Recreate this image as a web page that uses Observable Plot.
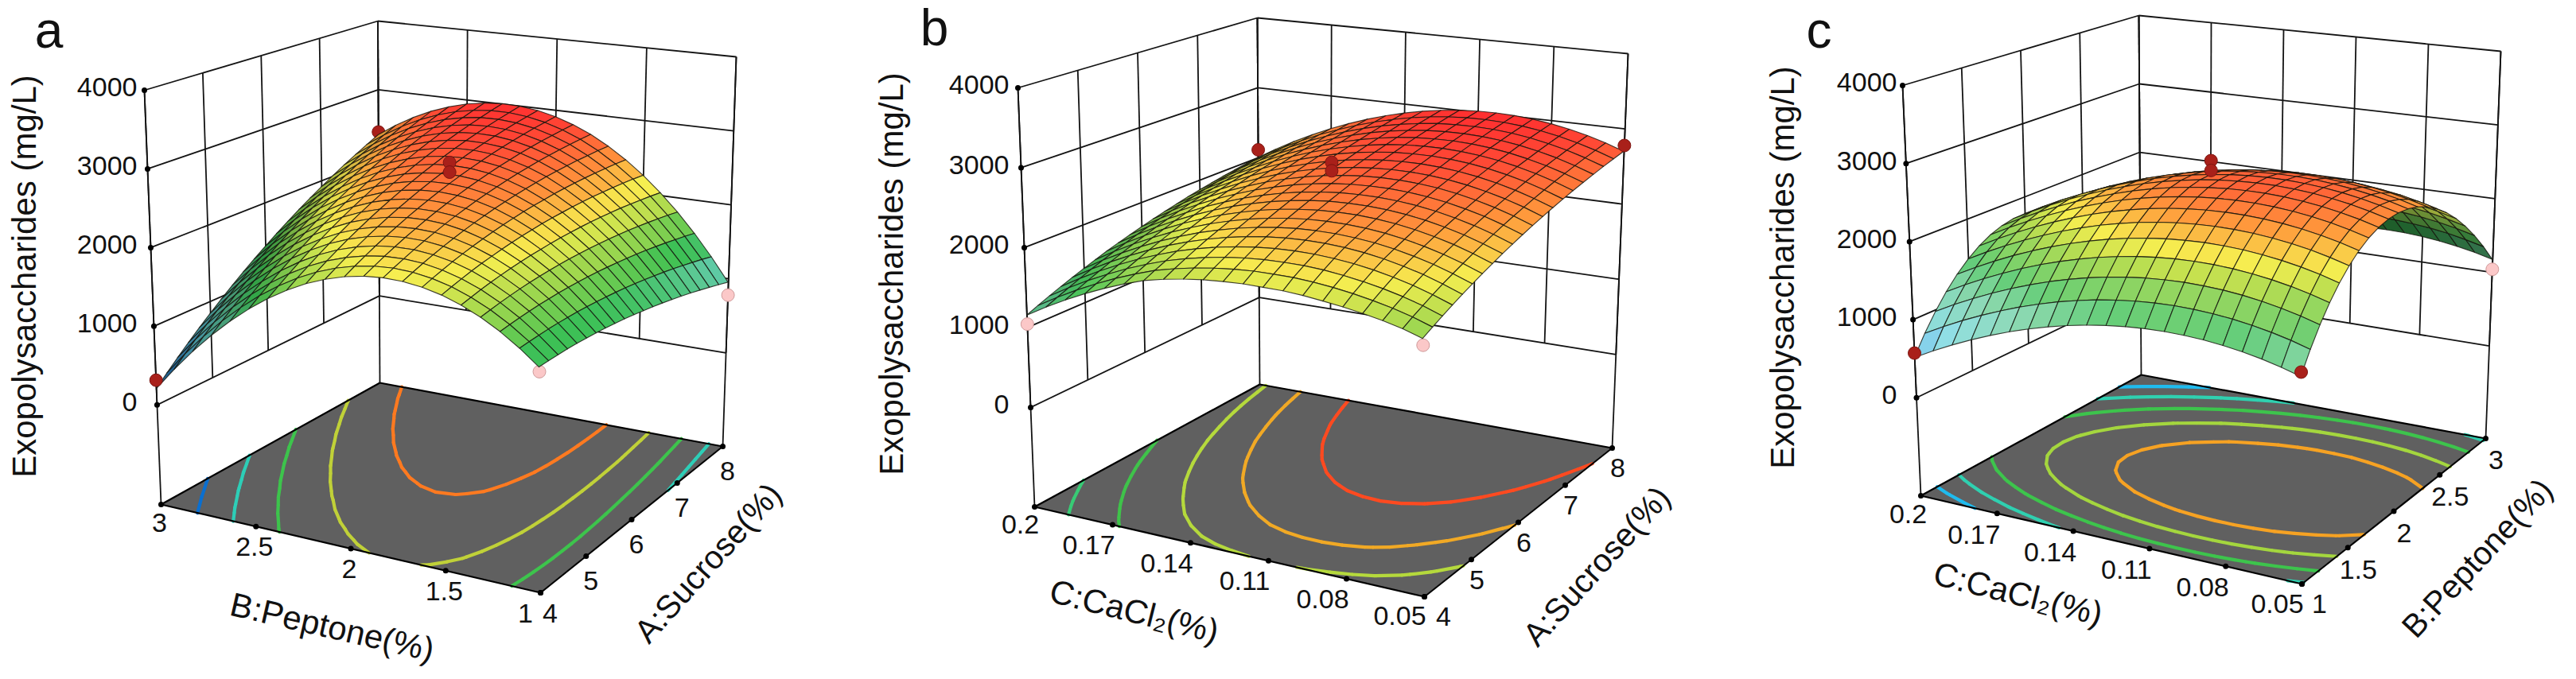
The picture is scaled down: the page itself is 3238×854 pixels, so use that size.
<!DOCTYPE html>
<html><head><meta charset="utf-8">
<script src="https://cdn.jsdelivr.net/npm/d3@7"></script>
<script src="https://cdn.jsdelivr.net/npm/@observablehq/plot@0.6"></script>
<style>html,body{margin:0;padding:0;background:#fff;overflow:hidden}#row{display:flex;width:3238px;height:854px}svg{display:block}</style>
</head><body><div id="row"></div>
<script>
const yieldTicks=[0,1000,2000,3000,4000];
const sucroseTicks=[4,5,6,7,8];
const peptoneTicks=[1,1.5,2,2.5,3];
const caclTicks=[0.05,0.08,0.11,0.14,0.17,0.2];
// rows: sucrose 4..8 (21 steps); columns: peptone 1..3 (21 steps)
const yieldBySucrosePeptone=[
[1390,1570,1725,1855,1958,2038,2091,2121,2124,2102,2055,1982,1886,1763,1615,1442,1244,1021,773,498,200],
[1395,1580,1742,1878,1988,2074,2134,2170,2180,2164,2124,2058,1968,1852,1710,1544,1352,1136,894,626,333],
[1396,1588,1757,1899,2016,2108,2174,2217,2233,2224,2190,2130,2047,1937,1802,1642,1456,1247,1011,750,464],
[1396,1594,1769,1918,2041,2140,2213,2261,2284,2281,2254,2201,2124,2021,1891,1738,1559,1356,1127,872,592],
[1392,1597,1779,1934,2063,2169,2248,2303,2332,2336,2315,2268,2198,2101,1978,1831,1659,1462,1239,991,718],
[1385,1596,1784,1946,2082,2193,2279,2341,2377,2386,2372,2332,2267,2177,2061,1921,1754,1564,1348,1106,839],
[1376,1594,1788,1957,2099,2217,2309,2377,2420,2436,2428,2394,2336,2253,2143,2009,1849,1665,1456,1220,960],
[1364,1588,1789,1963,2112,2237,2335,2410,2459,2481,2480,2453,2401,2324,2221,2093,1940,1763,1559,1330,1076],
[1348,1579,1786,1967,2122,2254,2359,2440,2495,2524,2529,2508,2463,2392,2295,2174,2028,1857,1660,1437,1190],
[1331,1568,1782,1969,2131,2268,2380,2467,2529,2564,2576,2562,2523,2459,2368,2254,2113,1949,1758,1542,1301],
[1310,1554,1774,1968,2136,2280,2398,2492,2560,2602,2620,2612,2580,2522,2438,2330,2196,2038,1854,1644,1410],
[1286,1537,1763,1964,2138,2289,2413,2514,2588,2637,2661,2659,2634,2582,2505,2403,2276,2124,1947,1743,1516],
[1260,1517,1750,1957,2138,2294,2425,2532,2613,2668,2699,2704,2685,2640,2569,2474,2352,2207,2036,1839,1618],
[1231,1495,1734,1948,2135,2298,2436,2549,2636,2698,2735,2746,2734,2695,2630,2542,2427,2288,2124,1933,1719],
[1200,1470,1716,1935,2129,2299,2443,2563,2656,2724,2768,2786,2780,2747,2689,2607,2499,2367,2208,2024,1816],
[1165,1442,1694,1920,2120,2297,2447,2573,2673,2748,2798,2822,2823,2797,2745,2669,2568,2442,2290,2112,1911],
[1128,1411,1669,1902,2110,2291,2448,2581,2688,2768,2825,2856,2862,2843,2798,2729,2633,2514,2369,2197,2002],
[1087,1377,1642,1881,2094,2283,2446,2586,2699,2786,2849,2886,2899,2886,2848,2785,2696,2583,2444,2279,2091],
[1044,1340,1611,1857,2076,2272,2442,2587,2707,2800,2870,2914,2933,2927,2894,2838,2756,2649,2517,2358,2176],
[998,1301,1579,1831,2057,2259,2435,2587,2713,2813,2889,2939,2965,2965,2939,2889,2813,2713,2587,2435,2260],
[950,1258,1543,1801,2034,2242,2425,2583,2716,2822,2905,2962,2994,3001,2981,2938,2868,2775,2655,2510,2340]];
// rows: sucrose 4..8; columns: CaCl2 0.05..0.2
const yieldBySucroseCacl=[
[1798,1869,1921,1962,1995,2021,2044,2055,2053,2050,2033,2010,1973,1925,1864,1776,1675,1562,1436,1299,1148],
[1862,1938,1999,2047,2087,2117,2139,2150,2148,2141,2120,2090,2048,1993,1927,1837,1737,1623,1498,1360,1210],
[1923,2003,2069,2122,2164,2197,2220,2231,2228,2218,2195,2161,2115,2056,1986,1897,1797,1682,1557,1419,1269],
[1984,2066,2136,2193,2239,2273,2295,2306,2304,2292,2266,2229,2180,2118,2045,1955,1855,1740,1615,1477,1326],
[2042,2126,2199,2258,2307,2342,2365,2375,2373,2359,2332,2293,2241,2177,2101,2012,1911,1797,1671,1533,1382],
[2097,2181,2254,2313,2362,2397,2419,2430,2427,2414,2386,2346,2295,2230,2155,2065,1964,1850,1724,1586,1435],
[2151,2235,2308,2367,2415,2451,2473,2483,2480,2467,2439,2399,2348,2283,2207,2117,2017,1902,1776,1638,1487],
[2203,2288,2360,2419,2467,2502,2524,2535,2532,2518,2490,2450,2398,2333,2258,2168,2067,1952,1826,1687,1537],
[2254,2338,2410,2469,2517,2552,2574,2584,2581,2567,2539,2499,2447,2382,2306,2216,2115,2000,1874,1735,1584],
[2301,2385,2457,2516,2563,2598,2620,2630,2627,2613,2585,2545,2493,2428,2352,2262,2161,2045,1919,1780,1629],
[2347,2431,2503,2561,2609,2644,2666,2676,2672,2658,2630,2590,2538,2472,2396,2306,2205,2090,1963,1824,1673],
[2391,2475,2546,2605,2653,2688,2709,2719,2716,2701,2673,2633,2580,2515,2439,2348,2247,2132,2006,1866,1715],
[2432,2516,2587,2646,2693,2728,2750,2759,2756,2741,2713,2673,2620,2555,2478,2388,2287,2171,2045,1905,1754],
[2473,2556,2627,2686,2733,2768,2789,2799,2795,2781,2752,2711,2659,2593,2517,2426,2325,2209,2083,1943,1791],
[2511,2594,2665,2724,2771,2805,2827,2836,2832,2818,2789,2748,2696,2630,2553,2463,2361,2245,2119,1979,1827],
[2547,2630,2701,2760,2807,2841,2862,2871,2868,2853,2824,2783,2730,2665,2588,2497,2395,2279,2153,2013,1861],
[2580,2663,2734,2792,2839,2874,2895,2904,2900,2885,2856,2815,2762,2696,2619,2528,2427,2311,2184,2044,1892],
[2612,2695,2766,2824,2871,2905,2926,2935,2931,2916,2887,2846,2793,2727,2650,2559,2457,2341,2214,2074,1922],
[2643,2725,2796,2854,2901,2935,2956,2964,2960,2945,2916,2875,2822,2756,2678,2587,2485,2369,2242,2102,1949],
[2670,2753,2823,2881,2927,2961,2982,2991,2987,2971,2942,2901,2847,2781,2704,2613,2511,2394,2267,2126,1974],
[2696,2779,2849,2907,2953,2987,3008,3016,3012,2996,2967,2926,2872,2806,2728,2637,2535,2418,2291,2150,1998]];
// rows: peptone 1..3; columns: CaCl2 0.05..0.2
const yieldByPeptoneCacl=[
[1190,1256,1311,1355,1389,1413,1426,1429,1421,1403,1374,1335,1285,1225,1154,1073,981,879,767,644,510],
[1441,1507,1561,1605,1639,1662,1675,1678,1670,1651,1622,1583,1532,1472,1401,1320,1227,1125,1013,889,755],
[1665,1730,1785,1828,1862,1885,1897,1900,1891,1873,1843,1803,1753,1692,1621,1539,1446,1344,1231,1108,973],
[1863,1928,1982,2025,2058,2081,2094,2096,2087,2068,2038,1998,1947,1886,1814,1733,1640,1537,1424,1300,1165],
[2035,2100,2154,2196,2229,2252,2264,2266,2256,2237,2207,2167,2116,2054,1982,1900,1807,1704,1590,1466,1331],
[2179,2243,2297,2339,2372,2394,2406,2407,2398,2378,2348,2308,2256,2195,2122,2040,1946,1843,1729,1605,1469],
[2298,2362,2415,2458,2490,2512,2523,2524,2515,2495,2464,2423,2371,2310,2237,2154,2060,1956,1843,1718,1582],
[2390,2454,2507,2549,2581,2602,2613,2614,2604,2584,2553,2512,2460,2398,2325,2242,2147,2043,1929,1804,1668],
[2455,2519,2571,2613,2644,2666,2677,2677,2667,2646,2615,2574,2521,2459,2385,2302,2208,2103,1989,1863,1727],
[2494,2557,2610,2651,2682,2703,2714,2714,2703,2683,2651,2609,2557,2494,2420,2337,2242,2137,2022,1897,1760],
[2506,2569,2621,2662,2693,2714,2724,2724,2713,2692,2660,2618,2565,2502,2428,2344,2249,2144,2029,1903,1766],
[2492,2555,2606,2647,2678,2699,2708,2708,2697,2675,2643,2601,2547,2484,2410,2325,2230,2125,2010,1883,1746],
[2451,2513,2565,2605,2636,2656,2665,2665,2653,2632,2599,2556,2503,2439,2365,2280,2184,2079,1963,1837,1699],
[2384,2446,2497,2537,2567,2588,2597,2596,2584,2562,2529,2486,2432,2368,2293,2208,2113,2007,1891,1764,1626],
[2290,2352,2403,2442,2472,2492,2501,2500,2487,2465,2432,2389,2335,2270,2195,2110,2014,1908,1791,1664,1526],
[2169,2231,2281,2321,2350,2370,2378,2377,2364,2342,2308,2264,2210,2145,2070,1984,1888,1781,1665,1537,1399],
[2023,2084,2134,2174,2203,2222,2230,2228,2216,2193,2159,2115,2060,1996,1920,1834,1737,1630,1514,1386,1247],
[1849,1910,1960,1999,2028,2047,2054,2052,2039,2016,1982,1938,1883,1818,1742,1655,1558,1451,1334,1206,1067],
[1649,1710,1759,1798,1826,1845,1853,1850,1837,1813,1779,1735,1679,1614,1537,1451,1354,1246,1129,1000,861],
[1423,1483,1533,1571,1599,1618,1625,1622,1608,1585,1550,1505,1450,1384,1307,1220,1123,1015,897,769,629],
[1170,1230,1279,1317,1345,1363,1370,1367,1353,1329,1294,1249,1193,1127,1050,963,865,757,639,510,370]];
const contourLevelsA=[750,1200,1650,2100,2550];
const contourLevelsB=[1400,1710,2050,2330,2640];
const contourLevelsC=[860,1240,1620,2000,2370];
// design points: [row factor, column factor, measured yield]
const runsA=[[4,3,315],[4,1,1340],[8,1,780],[8,3,2386],[6,2,2903],[6,2,2777]];
const runsB=[[4,0.2,1043],[4,0.05,1723],[8,0.05,2779],[8,0.2,2112],[6,0.125,2910],[6,0.125,2800]];
const runsC=[[1,0.2,572],[1,0.05,1246],[3,0.05,1041],[3,0.2,300],[2,0.125,2847],[2,0.125,2718]];

const surfaceColor=d3.scaleLinear()
 .domain([200,600,850,1200,1500,1900,2150,2450,2800,3000])
 .range(["#1565c0","#4fb4ea","#64d3d8","#5cc896","#3cc054","#a7d94e","#f6ee50","#ff9a3c","#ff4a35","#ff3030"]).clamp(true);
const contourColor=d3.scaleLinear()
 .domain([750,860,1240,1500,1700,2050,2350,2550,2640])
 .range(["#0a6fd0","#1fbbee","#2fd0b0","#3ec850","#3cc24a","#b5d93c","#f5a623","#ff7a20","#ff4a20"]).clamp(true);

const font="'Liberation Sans',Arial,sans-serif";
const panels=[
{letter:"a",width:1080,zFloor:-1265,lift:0,table:yieldBySucrosePeptone,rows:sucroseTicks,cols:peptoneTicks,levels:contourLevelsA,runs:runsA,
 floor:{L:[202,634],F:[679,745],R:[908,561],K:[477,481]},top:{L:[181,113],F:[676,183],R:[925,71],K:[474.5,26]},
 zLabelX:172,colOff:[-2,26],colOffEnd:[-19,27],colOffFirst:[-2,24],rowOff:[6,32],rowOffFirst:[12,27],
 zTitle:[31,347],colTitle:["B:Peptone(%)",417,789,13],rowTitle:["A:Sucrose(%)",890,708,-48],tag:[61,39]},
{letter:"b",width:1080,zFloor:-1245,lift:0.1,table:yieldBySucroseCacl,rows:sucroseTicks,cols:caclTicks,levels:contourLevelsB,runs:runsB,
 floor:{L:[220,637],F:[710,750],R:[946,563],K:[503,483]},top:{L:[199,110],F:[707,191],R:[966,67],K:[500,22]},
 zLabelX:188,colOff:[-30,26],colOffEnd:[-31,25],colOffFirst:[-18,23],rowOff:[7,26],rowOffFirst:[24,26],
 zTitle:[41,344],colTitle:["C:CaCl₂(%)",345,769,14],rowTitle:["A:Sucrose(%)",927,712,-48],tag:[94,36]},
{letter:"c",width:1078,zFloor:-1255,lift:0.3,table:yieldByPeptoneCacl,rows:peptoneTicks,cols:caclTicks,levels:contourLevelsC,runs:runsC,
 floor:{L:[254,623],F:[733,734],R:[964,551],K:[531,471]},top:{L:[231,107],F:[731,174],R:[983,64],K:[528,19]},
 zLabelX:224,colOff:[-29,27],colOffEnd:[-31,26],colOffFirst:[-16,24],rowOff:[13,28],rowOffFirst:[22,26],
 zTitle:[81,336],colTitle:["C:CaCl₂(%)",376,747,14],rowTitle:["B:Peptone(%)",954,702,-47],tag:[126,39]}
];

function bil(c,s,t){ // s: L->F, t: F->R
 const a=(1-s)*(1-t),b=s*(1-t),d=s*t,e=(1-s)*t;
 return [a*c.L[0]+b*c.F[0]+d*c.R[0]+e*c.K[0],a*c.L[1]+b*c.F[1]+d*c.R[1]+e*c.K[1]];
}
function draw(p){
 const zh=d3.scaleLinear().domain([p.zFloor,4000]).range([0,1]);
 const P=(s,t,z)=>{const f=bil(p.floor,s,t),u=bil(p.top,s,t),h=zh(z);return [f[0]+(u[0]-f[0])*h,f[1]+(u[1]-f[1])*h];};
 const rowPos=d3.scaleLinear().domain(d3.extent(p.rows)).range([0,1]);
 const colPos=d3.scaleLinear().domain(d3.extent(p.cols)).range([1,0]);
 const n=p.table.length-1,m=p.table[0].length-1;
 const node=(i,j)=>P(1-j/m,i/n,p.table[i][j]);
 // surface cells, far to near
 const light=[0.42,-0.5,0.76];
 const cells=[];let id=0;
 for(let i=n-1;i>=0;i--)for(let j=m-1;j>=0;j--){
  const T=p.table,z0=T[i][j],z1=T[i+1][j],z2=T[i+1][j+1],z3=T[i][j+1];
  const mean=(z0+z1+z2+z3)/4;
  const dzT=((z1+z2)-(z0+z3))/2/4000*1.05*n;
  const dzS=-((z3+z2)-(z0+z1))/2/4000*1.05*m;
  const len=Math.hypot(dzS,dzT,1);
  const lam=Math.max(0,(-dzS*light[0]-dzT*light[1]+light[2])/len);
  const k=Math.min(1,0.42+1.1*lam);
  const base=d3.rgb(d3.interpolateRgb(surfaceColor(mean),"#ffffff")(p.lift*Math.min(1,lam*1.5)*Math.max(0,Math.min(1,(2000-mean)/700))));
  const fill=`rgb(${base.r*k|0},${base.g*k|0},${base.b*k|0})`;
  const A=node(i,j),B=node(i+1,j),C=node(i+1,j+1),D=node(i,j+1);
  cells.push({id,fill,x1:A[0],y1:A[1],x2:D[0],y2:D[1]},{id,fill,x1:B[0],y1:B[1],x2:C[0],y2:C[1]});
  id++;
 }
 // contour segments on the floor
 const segs=[];
 for(const lv of p.levels){
  const col=contourColor(lv);
  for(let i=0;i<n;i++)for(let j=0;j<m;j++){
   const q=[[i,j],[i+1,j],[i+1,j+1],[i,j+1]],pts=[];
   for(let e=0;e<4;e++){
    const a=q[e],b=q[(e+1)%4],va=p.table[a[0]][a[1]],vb=p.table[b[0]][b[1]];
    if((va<lv)!==(vb<lv)){const f=(lv-va)/(vb-va);
     pts.push(P(1-(a[1]+(b[1]-a[1])*f)/m,(a[0]+(b[0]-a[0])*f)/n,p.zFloor));}
   }
   for(let e=0;e+1<pts.length;e+=2)segs.push({col,x1:pts[e][0],y1:pts[e][1],x2:pts[e+1][0],y2:pts[e+1][1]});
  }
 }
 const link=(a,b)=>({x1:a[0],y1:a[1],x2:b[0],y2:b[1]});
 const wall=[];
 for(const z of yieldTicks){wall.push(link(P(0,0,z),P(0,1,z)),link(P(0,1,z),P(1,1,z)));}
 for(const v of p.rows)wall.push(link(P(0,rowPos(v),0),P(0,rowPos(v),4000)));
 for(const v of p.cols)wall.push(link(P(colPos(v),1,0),P(colPos(v),1,4000)));
 for(const c of [[0,0],[0,1],[1,1]])wall.push(link(P(c[0],c[1],p.zFloor),P(c[0],c[1],4000)));
 const edges=[link(P(0,0,p.zFloor),P(1,0,p.zFloor)),link(P(1,0,p.zFloor),P(1,1,p.zFloor)),link(P(1,1,p.zFloor),P(0,1,p.zFloor)),link(P(0,1,p.zFloor),P(0,0,p.zFloor))];
 const fl=[{x1:P(0,0,p.zFloor)[0],y1:P(0,0,p.zFloor)[1],x2:P(1,0,p.zFloor)[0],y2:P(1,0,p.zFloor)[1]},
           {x1:P(0,1,p.zFloor)[0],y1:P(0,1,p.zFloor)[1],x2:P(1,1,p.zFloor)[0],y2:P(1,1,p.zFloor)[1]}];
 const tickPts=[...yieldTicks.map(z=>P(0,0,z)),...p.cols.map(v=>P(colPos(v),0,p.zFloor)),...p.rows.map(v=>P(1,rowPos(v),p.zFloor))];
 const runPts=p.runs.map(r=>{const s=colPos(r[1]),t=rowPos(r[0]);const q=P(s,t,r[2]);
   const sv=(s===0&&t===1);
   const onZ=p.table[Math.round(t*n)][Math.round((1-s)*m)];
   return {x:q[0],y:q[1],above:r[2]>=onZ,back:sv};});
 const zLab=yieldTicks.map(z=>({t:String(z),x:p.zLabelX,y:P(0,0,z)[1]-3}));
 const colLab=p.cols.map((v,i)=>{const q=P(colPos(v),0,p.zFloor);const o=i===0?p.colOffEnd:i===p.cols.length-1?p.colOffFirst:p.colOff;return {t:String(v),x:q[0]+o[0],y:q[1]+o[1]};});
 const rowLab=p.rows.map((v,i)=>{const q=P(1,rowPos(v),p.zFloor);const o=i===0?p.rowOffFirst:p.rowOff;return {t:String(v),x:q[0]+o[0],y:q[1]+o[1]};});
 const one=(txt,x,y,size,rotate)=>Plot.text([txt],{x:()=>x,y:()=>y,text:d=>d,fontSize:size,rotate,fill:"#111",textAnchor:"middle",lineAnchor:"middle"});
 const pink={fill:"#fbc8c8",stroke:"#cf9a9a",strokeWidth:1,r:8};
 const red={fill:"#a9201a",stroke:"#7d1511",strokeWidth:1,r:8};
 const xy={x:"x",y:"y"};
 return Plot.plot({
  width:p.width,height:854,margin:0,
  x:{domain:[0,p.width],range:[0,p.width],axis:null},
  y:{domain:[0,854],range:[0,854],axis:null},
  style:{background:"transparent",fontFamily:font,overflow:"visible"},
  marks:[
   Plot.area(fl,{x1:"x1",y1:"y1",x2:"x2",y2:"y2",fill:"#606060"}),
   Plot.link(segs,{x1:"x1",y1:"y1",x2:"x2",y2:"y2",stroke:{value:"col",scale:null},strokeWidth:4.2,strokeLinecap:"round"}),
   Plot.link(wall,{x1:"x1",y1:"y1",x2:"x2",y2:"y2",stroke:"#141414",strokeWidth:1.8}),
   Plot.link(edges,{x1:"x1",y1:"y1",x2:"x2",y2:"y2",stroke:"#000",strokeWidth:2.2}),
   Plot.dot(tickPts,{x:d=>d[0],y:d=>d[1],r:3.5,fill:"#000"}),
   Plot.dot(runPts.filter(d=>!d.above),{...xy,...pink}),
   Plot.dot(runPts.filter(d=>d.above&&d.back),{...xy,...red}),
   Plot.area(cells,{x1:"x1",y1:"y1",x2:"x2",y2:"y2",z:"id",fill:{value:"fill",scale:null},stroke:"#14140c",strokeWidth:1.15,strokeOpacity:0.8}),
   Plot.dot(runPts.filter(d=>d.above&&!d.back),{...xy,...red}),
   Plot.text(zLab,{x:"x",y:"y",text:"t",textAnchor:"end",lineAnchor:"middle",fontSize:34,fill:"#111"}),
   Plot.text(colLab,{x:"x",y:"y",text:"t",textAnchor:"middle",lineAnchor:"middle",fontSize:34,fill:"#111"}),
   Plot.text(rowLab,{x:"x",y:"y",text:"t",textAnchor:"middle",lineAnchor:"middle",fontSize:34,fill:"#111"}),
   one("Exopolysaccharides (mg/L)",p.zTitle[0],p.zTitle[1],42,-90),
   one(p.colTitle[0],p.colTitle[1],p.colTitle[2],42,p.colTitle[3]),
   one(p.rowTitle[0],p.rowTitle[1],p.rowTitle[2],41,p.rowTitle[3]),
   one(p.letter,p.tag[0],p.tag[1],64,0)
  ]
 });
}
const row=document.getElementById("row");
for(const p of panels)row.appendChild(draw(p));
</script></body></html>
